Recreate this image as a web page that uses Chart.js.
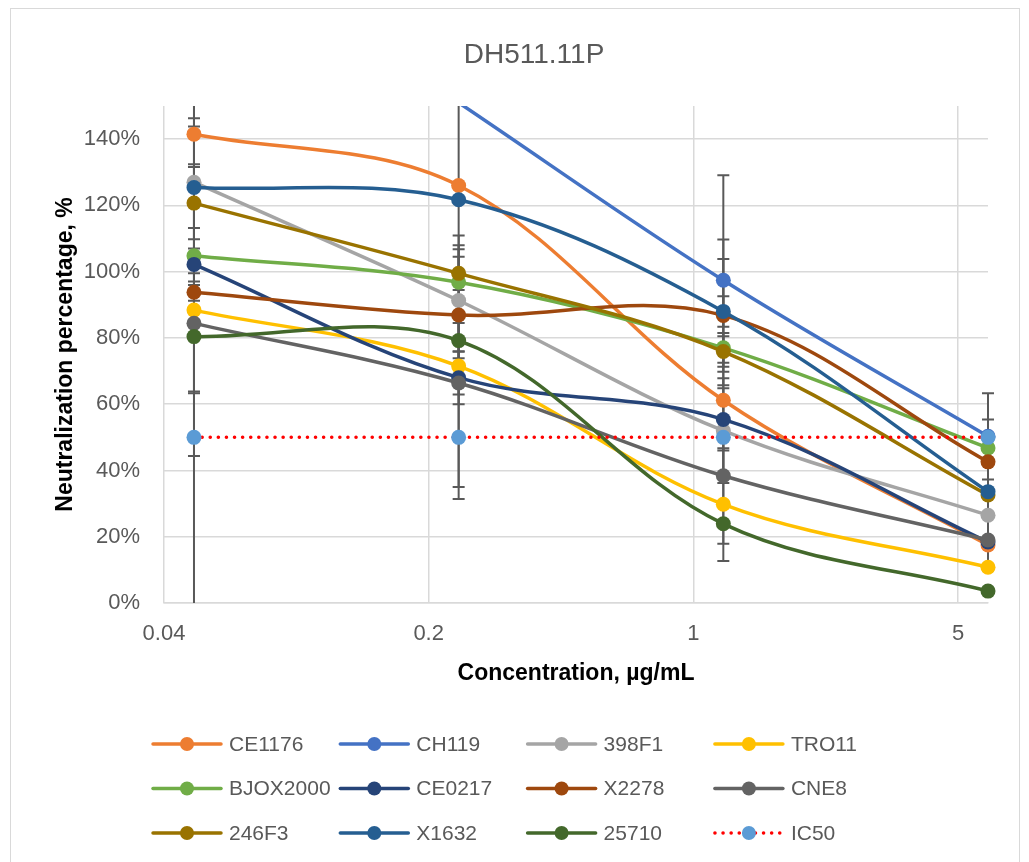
<!DOCTYPE html>
<html>
<head>
<meta charset="utf-8">
<script src="https://cdn.jsdelivr.net/npm/chart.js@4.4.1/dist/chart.umd.min.js"></script>
<style>
  html, body { margin: 0; background: #fff; }
  canvas { display: block; }
</style>
</head>
<body>
<canvas id="dataChart" width="1029" height="862"></canvas>
<script>
// concentrations (µg/mL) and axis ticks
const concentrations = [0.048, 0.24, 1.2, 6];
const xTickValues = [0.04, 0.2, 1, 5];
const Y_MAX = 150;
const chartTitle = 'DH511.11P';

const seriesNames = ['CE1176', 'CH119', '398F1', 'TRO11', 'BJOX2000', 'CE0217', 'X2278', 'CNE8', '246F3', 'X1632', '25710', 'IC50'];

// neutralization %, one array per virus
const ce1176   = [141.5, 126, 61.2, 17.5];
const ch119    = [null, 151, 97.4, 50.3];
const f398     = [127, 91.3, 52, 26.5];
const tro11    = [88.4, 71.5, 29.8, 10.8];
const bjox2000 = [104.8, 96.8, 77, 46.8];
const ce0217   = [102.2, 68, 55.4, 18.4];
const x2278    = [93.8, 86.9, 86.8, 42.6];
const cne8     = [84.4, 66.4, 38.4, 19];
const f246     = [120.7, 99.5, 75.9, 32.6];
const x1632    = [125.4, 121.7, 88, 33.6];
const v25710   = [80.4, 79.2, 23.9, 3.6];
const ic50     = [50, 50, 50, 50];

// +/- error values (same order), null = no bar
const ce1176Err   = [45.5, 94.6, 48.5, null];
const ch119Err    = [null, null, 31.7, 13];
const f398Err     = [130, 15.5, 15.8, null];
const tro11Err    = [44, 36.5, null, null];
const bjox2000Err = [41.5, null, 4.5, null];
const ce0217Err   = [11, 8, 9.4, null];
const x2278Err    = [5.7, 24, 17, null];
const cne8Err     = [null, null, 8.3, null];
const f246Err     = [10.9, 5, 4.6, 22.8];
const x1632Err    = [18.4, null, 4.6, null];
const v25710Err   = [16.6, 5.3, 6, null];
const ic50Err     = [null, null, null, null];

const seriesValues = [ce1176, ch119, f398, tro11, bjox2000, ce0217, x2278, cne8, f246, x1632, v25710, ic50];
const seriesErrors = [ce1176Err, ch119Err, f398Err, tro11Err, bjox2000Err, ce0217Err, x2278Err, cne8Err, f246Err, x1632Err, v25710Err, ic50Err];

const lineColors   = ['#ED7D31', '#4472C4', '#A5A5A5', '#FFC000', '#70AD47', '#264478', '#9E480E', '#636363', '#997300', '#255E91', '#43682B', '#FF0000'];
const markerColors = ['#ED7D31', '#4472C4', '#A5A5A5', '#FFC000', '#70AD47', '#264478', '#9E480E', '#636363', '#997300', '#255E91', '#43682B', '#5B9BD5'];

Chart.defaults.font.family = '"Liberation Sans", Arial, sans-serif';

const datasets = seriesValues.map((vals, i) => {
    const dotted = seriesNames[i] === 'IC50';
    return {
        label: seriesNames[i],
        data: vals.map((y, j) => ({ x: concentrations[j], y })),
        errors: seriesErrors[i],
        borderColor: lineColors[i],
        backgroundColor: markerColors[i],
        pointBackgroundColor: markerColors[i],
        pointBorderColor: markerColors[i],
        pointBorderWidth: 0,
        pointRadius: c => (c.raw && c.raw.y > Y_MAX) ? 0 : 7.5,
        borderWidth: 3.5,
        borderCapStyle: 'round',
        borderDash: dotted ? [0.1, 8] : [],
        tension: dotted ? 0 : 0.35,
        order: -i,
        clip: { left: 12, top: 0, right: 12, bottom: 12 },
    };
});

// grey outer frame + title (Excel puts it off-centre of the plot)
const framePlugin = {
    id: 'frame',
    beforeDraw(chart) {
        const c = chart.ctx;
        c.save();
        c.fillStyle = '#fff';
        c.fillRect(0, 0, chart.width, chart.height);
        c.strokeStyle = '#D9D9D9';
        c.lineWidth = 1;
        c.strokeRect(10.5, 8.5, 1009, 900);
        c.fillStyle = '#595959';
        c.font = '28px "Liberation Sans", Arial, sans-serif';
        c.textAlign = 'center';
        c.textBaseline = 'middle';
        c.fillText(chartTitle, 534, 55);
        c.restore();
    }
};

// vertical error bars with caps
const errorBarPlugin = {
    id: 'errorBars',
    beforeDatasetsDraw(chart) {
        const c = chart.ctx;
        const area = chart.chartArea;
        const xs = chart.scales.x, ys = chart.scales.y;
        c.save();
        c.beginPath();
        c.rect(area.left - 10, area.top, area.width + 20, area.bottom - area.top);
        c.clip();
        c.strokeStyle = '#595959';
        c.lineWidth = 2;
        chart.data.datasets.forEach(ds => {
            ds.errors.forEach((e, j) => {
                const v = ds.data[j].y;
                if (e == null || v == null) return;
                const px = xs.getPixelForValue(ds.data[j].x);
                const lo = ys.getPixelForValue(v - e);
                const hi = ys.getPixelForValue(v + e);
                c.beginPath();
                c.moveTo(px, lo); c.lineTo(px, hi);
                c.moveTo(px - 6, lo); c.lineTo(px + 6, lo);
                c.moveTo(px - 6, hi); c.lineTo(px + 6, hi);
                c.stroke();
            });
        });
        c.restore();
    }
};

// legend grid: 4 columns x 3 rows, line + marker + text
const legendPlugin = {
    id: 'gridLegend',
    afterDraw(chart) {
        const c = chart.ctx;
        c.save();
        c.font = '21px "Liberation Sans", Arial, sans-serif';
        c.textBaseline = 'middle';
        chart.data.datasets.forEach((ds, i) => {
            const x0 = 153 + (i % 4) * 187.3;
            const y = 744 + Math.floor(i / 4) * 44.5;
            c.strokeStyle = ds.borderColor;
            c.lineWidth = 3.5;
            c.lineCap = 'round';
            c.setLineDash(ds.borderDash);
            c.beginPath();
            c.moveTo(x0, y); c.lineTo(x0 + 68, y);
            c.stroke();
            c.setLineDash([]);
            c.fillStyle = ds.pointBackgroundColor;
            c.beginPath();
            c.arc(x0 + 34, y, 7, 0, Math.PI * 2);
            c.fill();
            c.fillStyle = '#595959';
            c.fillText(ds.label, x0 + 76, y + 1);
        });
        c.restore();
    }
};

const ctx = document.getElementById('dataChart').getContext('2d');
const chartObj = new Chart(ctx, {
    type: 'line',
    data: { datasets },
    plugins: [framePlugin, errorBarPlugin, legendPlugin],
    options: {
        responsive: false,
        animation: false,
        layout: { padding: { left: 10, right: 41, top: 106, bottom: 172 } },
        plugins: {
            legend: { display: false },
            tooltip: { enabled: false },
            title: { display: false },
        },
        scales: {
            x: {
                type: 'logarithmic',
                min: 0.04,
                max: 6,
                afterBuildTicks: s => { s.ticks = xTickValues.map(v => ({ value: v })); },
                afterFit: s => { s.height = 87; },
                ticks: {
                    callback: v => String(v),
                    autoSkip: false,
                    maxRotation: 0,
                    color: '#595959',
                    font: { size: 22 },
                    padding: 18,
                },
                grid: { color: '#D9D9D9', lineWidth: 1.5, drawTicks: false },
                border: { color: '#D9D9D9', width: 1.5 },
                title: {
                    display: true,
                    text: 'Concentration, µg/mL',
                    color: '#000',
                    font: { size: 23, weight: 'bold' },
                    padding: { top: 0, bottom: 3 },
                },
            },
            y: {
                min: 0,
                max: Y_MAX,
                afterFit: s => { s.width = 154; },
                ticks: {
                    stepSize: 20,
                    includeBounds: false,
                    callback: v => v + '%',
                    color: '#595959',
                    font: { size: 22 },
                    padding: 24,
                },
                grid: { color: '#D9D9D9', lineWidth: 1.5, drawTicks: false },
                border: { display: false },
                title: {
                    display: true,
                    text: 'Neutralization percentage, %',
                    color: '#000',
                    font: { size: 23, weight: 'bold' },
                    padding: { top: 42, bottom: 0 },
                },
            },
        },
    },
});
</script>
</body>
</html>
